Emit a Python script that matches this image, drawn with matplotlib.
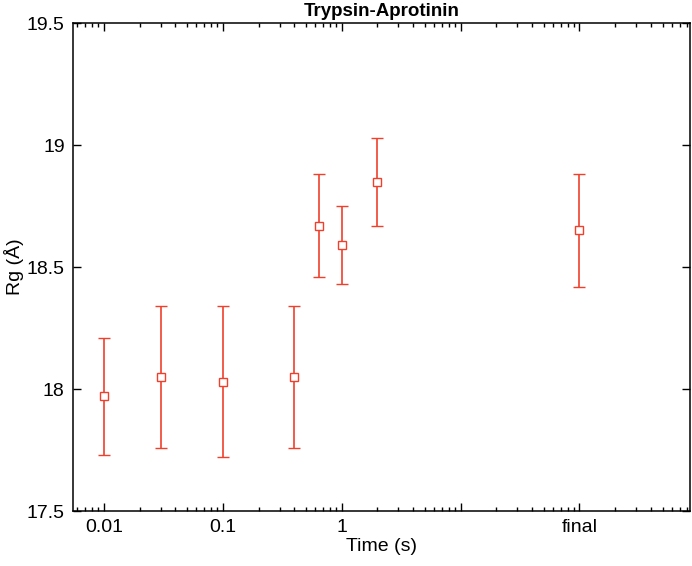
# Rg vs time plot, Trypsin-Aprotinin

import matplotlib
matplotlib.use('Agg')
import matplotlib.pyplot as plt
from matplotlib.ticker import FixedLocator, FixedFormatter, LogLocator, NullFormatter

# ------ Data ------
time = [0.01, 0.03, 0.1, 0.4, 0.65, 1.0, 2.0, 100.0]   # 100 stands for "final"
rg = [17.97, 18.05, 18.03, 18.05, 18.67, 18.59, 18.85, 18.65]
rg_top = [18.21, 18.34, 18.34, 18.34, 18.88, 18.75, 19.03, 18.88]
rg_bot = [17.73, 17.76, 17.72, 17.76, 18.46, 18.43, 18.67, 18.42]

xtick_pos = [0.01, 0.1, 1, 10, 100]
xtick_lab = ['0.01', '0.1', '1', '', 'final']
yticks = [17.5, 18, 18.5, 19, 19.5]

red = '#f0402c'

plt.rcParams['font.family'] = ['Liberation Sans', 'DejaVu Sans']

fig = plt.figure(figsize=(6.92, 5.66), dpi=100)
ax = fig.add_axes([73/692, 1 - 511/566, (690-73)/692, (511-23)/566])

err_lo = [v - b for v, b in zip(rg, rg_bot)]
err_hi = [t - v for v, t in zip(rg, rg_top)]

ax.errorbar(time, rg, yerr=[err_lo, err_hi], fmt='s', mfc='white', mec=red,
            ms=6, mew=1.0, ecolor=red, elinewidth=1.2, capsize=4.5, capthick=1.2,
            linestyle='none')

ax.set_xscale('log')
ax.set_xlim(0.0055, 850)
ax.set_ylim(17.5, 19.5)

ax.xaxis.set_major_locator(FixedLocator(xtick_pos))
ax.xaxis.set_major_formatter(FixedFormatter(xtick_lab))
ax.xaxis.set_minor_locator(LogLocator(base=10, subs=range(2, 10), numticks=20))
ax.xaxis.set_minor_formatter(NullFormatter())
ax.set_yticks(yticks)
ax.set_yticklabels(['17.5', '18', '18.5', '19', '19.5'])

ax.tick_params(which='both', direction='in', top=True, right=True, labelsize=14, width=1)
ax.tick_params(which='major', length=6, pad=6)
ax.tick_params(which='minor', length=3)
for s in ax.spines.values():
    s.set_linewidth(1.1)

ax.set_xlabel('Time (s)', fontsize=14, labelpad=1)
ax.set_ylabel('Rg (Å)', fontsize=14, labelpad=2)
ax.set_title('Trypsin-Aprotinin', fontsize=13.5, fontweight='heavy', pad=5)

plt.savefig('out.png', dpi=100)
